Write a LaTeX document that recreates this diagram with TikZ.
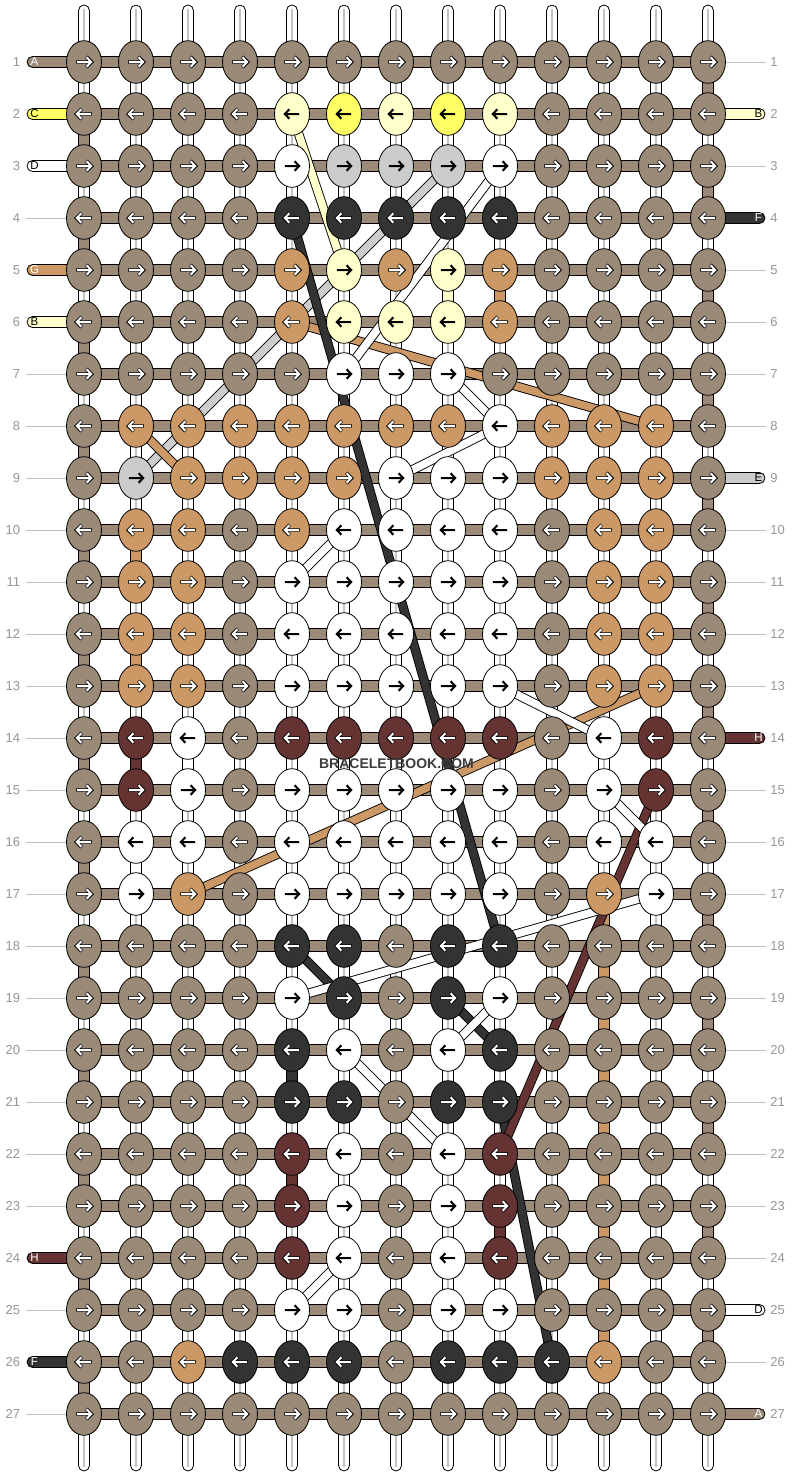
\documentclass[tikz,border=0pt]{standalone}
\usepackage{fontspec}
\setmainfont{Liberation Sans}
\usetikzlibrary{shapes.geometric}
\definecolor{kb}{RGB}{156,138,121}
\definecolor{kT}{RGB}{204,153,102}
\definecolor{kW}{RGB}{255,255,255}
\definecolor{kL}{RGB}{255,255,204}
\definecolor{kY}{RGB}{255,255,102}
\definecolor{kG}{RGB}{204,204,204}
\definecolor{kD}{RGB}{51,51,51}
\definecolor{kM}{RGB}{102,51,51}
\definecolor{numgray}{RGB}{150,150,150}
\definecolor{linegray}{RGB}{190,190,190}
\definecolor{stripec}{RGB}{195,195,195}
\definecolor{wmark}{RGB}{60,60,60}
\tikzset{
  knot/.style={ellipse, draw=black, line width=0.8pt, minimum width=35pt, minimum height=42.6pt, inner sep=0pt},
  band/.style={draw=black, line width=0.9pt, double distance=7.6pt, double=#1},
  seg/.style={draw=black, line width=0.8pt, fill=#1},
  numlabel/.style={text=numgray, font=\fontsize{13}{13}\selectfont, inner sep=0pt},
  endletter/.style={text=#1, font=\fontsize{11.5}{11.5}\selectfont, inner sep=0pt},
  arrunder b/.style={draw=black, line width=3.4pt},
  arrunder T/.style={draw=black, line width=3.4pt},
  arrunder D/.style={draw=black, line width=3.4pt},
  arrunder M/.style={draw=black, line width=3.4pt},
  arrunder W/.style={draw=none},
  arrunder L/.style={draw=none},
  arrunder Y/.style={draw=none},
  arrunder G/.style={draw=none},
  arrover b/.style={draw=white, line width=2pt},
  arrover T/.style={draw=white, line width=2pt},
  arrover D/.style={draw=white, line width=2pt},
  arrover M/.style={draw=white, line width=2pt},
  arrover W/.style={draw=black, line width=2pt},
  arrover L/.style={draw=black, line width=2pt},
  arrover Y/.style={draw=black, line width=2pt},
  arrover G/.style={draw=black, line width=2pt},
}
\begin{document}
\begin{tikzpicture}[x=1pt, y=-1pt, line width=0.8pt]
\useasboundingbox (0,0) rectangle (792,1476);
\fill[white] (0,0) rectangle (792,1476);
% coordinates of knot centres
\foreach \c in {1,...,13}{
  \foreach \r in {1,...,27}{
    \pgfmathtruncatemacro\px{32+52*\c}
    \pgfmathtruncatemacro\py{10+52*\r}
    \coordinate (p\c-\r) at (\px,\py);
  }
}
% warp strands
\foreach \c in {1,...,13}{
  \pgfmathtruncatemacro\px{32+52*\c}
  \draw[fill=white, rounded corners=5.5pt] (\px-5.5,5) rectangle (\px+5.5,1471);
  \draw[stripec, line width=2.4pt] (\px,9) -- (\px,1467);
}
% coloured vertical segments (edges)
\foreach \r in {2,4,...,26}{
  \draw[seg=kb] ([xshift=-5.5pt]p1-\r) rectangle ([xshift=5.5pt,yshift=-52pt]p1-\r);
}
\foreach \r in {1,3,...,25}{
  \draw[seg=kb] ([xshift=-5.5pt]p13-\r) rectangle ([xshift=5.5pt,yshift=-52pt]p13-\r);
}
% coloured vertical segments (inside)
\foreach \c/\r/\col in {8/5/kL, 9/5/kT, 2/10/kT, 2/12/kT, 2/14/kM, 2/16/kW, 3/14/kW,
   5/20/kD, 5/22/kM, 9/23/kM, 11/17/kT, 11/18/kT, 11/19/kT, 11/20/kT, 11/21/kT,
   11/22/kT, 11/23/kT, 11/24/kT, 11/25/kT}{
  \draw[seg=\col] ([xshift=-5.5pt]p\c-\r) rectangle ([xshift=5.5pt,yshift=-52pt]p\c-\r);
}
% horizontal threads
\foreach \r in {1,...,27}{
  \draw[fill=kb] ([yshift=5.5pt]p1-\r) rectangle ([yshift=-5.5pt]p13-\r);
}
% string ends left
\foreach \r/\t/\col/\tc in {1/A/kb/white, 2/C/kY/black, 3/D/kW/black, 5/G/kT/white, 6/B/kL/black, 24/H/kM/white, 26/F/kD/white}{
  \pgfmathtruncatemacro\py{10+52*\r}
  \draw[fill=\col] (84,\py-5.5) [rounded corners=5.5pt] -- (27,\py-5.5) -- (27,\py+5.5) [sharp corners] -- (84,\py+5.5) -- cycle;
  \node[endletter=\tc] (le\r) at (34.5,\py) {\t};
}
\foreach \r/\t/\col/\tc in {2/B/kL/black, 4/F/kD/white, 9/E/kG/black, 14/H/kM/white, 25/D/kW/black, 27/A/kb/white}{
  \pgfmathtruncatemacro\py{10+52*\r}
  \draw[fill=\col] (708,\py-5.5) [rounded corners=5.5pt] -- (765,\py-5.5) -- (765,\py+5.5) [sharp corners] -- (708,\py+5.5) -- cycle;
  \node[endletter=\tc] (re\r) at (758.5,\py) {\t};
}
% thin guide lines
\foreach \r in {4,7,8,9,10,11,12,13,14,15,16,17,18,19,20,21,22,23,25,27}{
  \pgfmathtruncatemacro\py{10+52*\r}
  \draw[linegray, line width=1pt] (26,\py) -- (66,\py);
}
\foreach \r in {1,3,5,6,7,8,10,11,12,13,15,16,17,18,19,20,21,22,23,24,26}{
  \pgfmathtruncatemacro\py{10+52*\r}
  \draw[linegray, line width=1pt] (726,\py) -- (766,\py);
}
% row numbers
\foreach \r in {1,...,27}{
  \pgfmathtruncatemacro\py{10+52*\r}
  \node[numlabel, anchor=east] (ln\r) at (20.5,\py) {\r};
  \node[numlabel, anchor=west] (rn\r) at (770,\py) {\r};
}
% thread paths
\draw[band=kL] (p5-2) -- (p6-5);
\draw[band=kG] (p8-3) -- (p2-9);
\draw[band=kT] (p2-8) -- (p3-9);
\draw[band=kT] (p5-6) -- (p12-8);
\draw[band=kT] (p3-17) -- (p12-13);
\draw[band=kD] (p5-4) -- (p9-18);
\draw[band=kD] (p5-18) -- (p6-19);
\draw[band=kD] (p8-19) -- (p9-20);
\draw[band=kD] (p9-21) -- (p10-26);
\draw[band=kM] (p12-15) -- (p9-22);
\draw[band=kW] (p9-3) -- (p6-7);
\draw[band=kW] (p8-7) -- (p9-8);
\draw[band=kW] (p9-8) -- (p7-9);
\draw[band=kW] (p6-10) -- (p5-11);
\draw[band=kW] (p9-13) -- (p11-14);
\draw[band=kW] (p11-15) -- (p12-16);
\draw[band=kW] (p12-17) -- (p5-19);
\draw[band=kW] (p9-19) -- (p8-20);
\draw[band=kW] (p6-20) -- (p8-22);
\draw[band=kW] (p6-24) -- (p5-25);
% knots
\foreach \r/\row in {
1/{b,b,b,b,b,b,b,b,b,b,b,b,b},
2/{b,b,b,b,L,Y,L,Y,L,b,b,b,b},
3/{b,b,b,b,W,G,G,G,W,b,b,b,b},
4/{b,b,b,b,D,D,D,D,D,b,b,b,b},
5/{b,b,b,b,T,L,T,L,T,b,b,b,b},
6/{b,b,b,b,T,L,L,L,T,b,b,b,b},
7/{b,b,b,b,b,W,W,W,b,b,b,b,b},
8/{b,T,T,T,T,T,T,T,W,T,T,T,b},
9/{b,G,T,T,T,T,W,W,W,T,T,T,b},
10/{b,T,T,b,T,W,W,W,W,b,T,T,b},
11/{b,T,T,b,W,W,W,W,W,b,T,T,b},
12/{b,T,T,b,W,W,W,W,W,b,T,T,b},
13/{b,T,T,b,W,W,W,W,W,b,T,T,b},
14/{b,M,W,b,M,M,M,M,M,b,W,M,b},
15/{b,M,W,b,W,W,W,W,W,b,W,M,b},
16/{b,W,W,b,W,W,W,W,W,b,W,W,b},
17/{b,W,T,b,W,W,W,W,W,b,T,W,b},
18/{b,b,b,b,D,D,b,D,D,b,b,b,b},
19/{b,b,b,b,W,D,b,D,W,b,b,b,b},
20/{b,b,b,b,D,W,b,W,D,b,b,b,b},
21/{b,b,b,b,D,D,b,D,D,b,b,b,b},
22/{b,b,b,b,M,W,b,W,M,b,b,b,b},
23/{b,b,b,b,M,W,b,W,M,b,b,b,b},
24/{b,b,b,b,M,W,b,W,M,b,b,b,b},
25/{b,b,b,b,W,W,b,W,W,b,b,b,b},
26/{b,b,T,D,D,D,b,D,D,D,T,b,b},
27/{b,b,b,b,b,b,b,b,b,b,b,b,b}}{
  \pgfmathtruncatemacro\dir{ifthenelse(mod(\r,2)==1,1,-1)}
  \foreach \k [count=\c] in \row {
    \node[knot, fill=k\k] (n\c-\r) at (p\c-\r) {};
    \begin{scope}[shift={(p\c-\r)}, xscale=\dir]
      \draw[arrunder \k, line join=miter] (-7.8,0) -- (6.8,0) (2.4,-5.2) -- (7.6,0) -- (2.4,5.2);
      \draw[arrover \k, line join=miter] (-7.2,0) -- (6.8,0) (2.6,-4.8) -- (7.2,0) -- (2.6,4.8);
    \end{scope}
  }
}
\node[text=wmark, font=\bfseries\fontsize{14}{14}\selectfont, inner sep=0pt] (wm) at (396.5,763.5) {BRACELETBOOK.COM};
\end{tikzpicture}
\end{document}
